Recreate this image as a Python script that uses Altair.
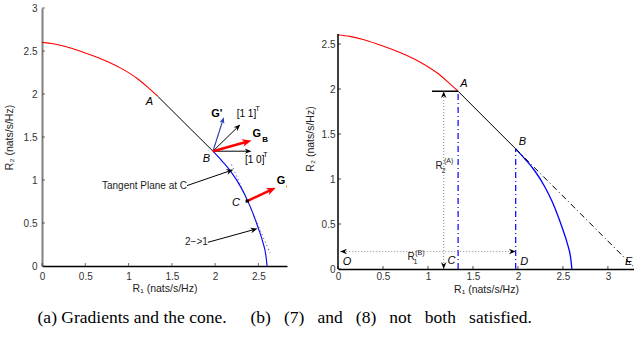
import math
import altair as alt
import pandas as pd

FONT = "Liberation Sans"
SERIF = "Liberation Serif"

# ---------------- boundary of the rate region ----------------
red_r1 = [0.0, 0.13, 0.28, 0.45, 0.59, 0.76, 0.92, 1.10, 1.22, 1.335]
red_r2 = [2.60, 2.585, 2.55, 2.495, 2.445, 2.375, 2.295, 2.18, 2.08, 1.975]
blue_r1 = [1.975, 2.08, 2.18, 2.295, 2.375, 2.445, 2.495, 2.55, 2.585, 2.60]
blue_r2 = [1.335, 1.22, 1.10, 0.92, 0.76, 0.59, 0.45, 0.28, 0.13, 0.0]
segment_r1 = [1.335, 1.975]   # A -> B
segment_r2 = [1.975, 1.335]

# ---------------- panel (a) ----------------
a_x_ticks = [0, 0.5, 1, 1.5, 2, 2.5]
a_y_ticks = [0, 0.5, 1, 1.5, 2, 2.5, 3]
a_pt_text = ["A", "B", "C"]
a_pt_r1 = [1.24, 1.90, 2.24]
a_pt_r2 = [1.91, 1.25, 0.73]
c_r1 = [2.37]
c_r2 = [0.755]
tangent_r1 = [2.19, 2.635]
tangent_r2 = [1.18, 0.15]
# gradient arrows leaving B:  G', [1 1]^T, G_B, [1 0]^T
grad_tip_r1 = [2.10, 2.29, 2.42, 2.42]
grad_tip_r2 = [1.73, 1.645, 1.46, 1.335]
gc_tip_r1 = [2.70]
gc_tip_r2 = [0.91]
note_text = ["Tangent Plane at C", "2\u2212>1"]
note_from_r1 = [1.675, 1.915]
note_from_r2 = [0.935, 0.275]
note_tip_r1 = [2.21, 2.49]
note_tip_r2 = [1.12, 0.435]

# ---------------- panel (b) ----------------
b_x_ticks = [0, 0.5, 1, 1.5, 2, 2.5, 3]
b_y_ticks = [0, 0.5, 1, 1.5, 2, 2.5]
b_pt_text = ["A", "B", "O", "C", "D", "E"]
b_pt_r1 = [1.40, 2.05, 0.10, 1.26, 2.07, 3.23]
b_pt_r2 = [2.055, 1.41, 0.073, 0.09, 0.08, 0.074]
bar_r1 = [1.045, 1.335]
bar_r2 = [1.975, 1.975]
r2a_r1 = [1.175, 1.175]
r2a_r2 = [0.0, 1.975]
r1b_r1 = [0.025, 1.975]
r1b_r2 = [0.195, 0.195]
proj_r1 = [1.335, 1.975]
proj_top = [1.975, 1.335]
ext_r1 = [1.975, 3.31]
ext_r2 = [1.335, 0.0]

SP = " \u2002"
captions = ["(a) Gradients and the cone.",
            SP.join(["(b)", "(7)", "and", "(8)", "not", "both", "satisfied."])]
cap_r1 = [1.04, 0.59]
cap_r2 = [-0.60, -0.54]

# ---------------- geometry of the two panels ----------------
A_W, A_H, A_XMAX, A_YMAX = 245, 258, 2.83, 3.0
B_W, B_H, B_XMAX, B_YMAX = 296, 261, 3.29, 2.9
xs_a = alt.Scale(domain=[0, A_XMAX], nice=False, zero=False)
ys_a = alt.Scale(domain=[0, A_YMAX], nice=False, zero=False)
xs_b = alt.Scale(domain=[0, B_XMAX], nice=False, zero=False)
ys_b = alt.Scale(domain=[0, B_YMAX], nice=False, zero=False)
SX_A, SY_A = A_W / A_XMAX, A_H / A_YMAX
SX_B, SY_B = B_W / B_XMAX, B_H / B_YMAX

HEAD = "M0,0L-2,-0.8L-1.4,0L-2,0.8Z"


def xy(xs, ys, xf="x", yf="y"):
    return dict(x=alt.X(f"{xf}:Q", scale=xs),
                y=alt.Y(f"{yf}:Q", scale=ys))


def curve(xs, ys, r1, r2, color, width=1.1):
    df = pd.DataFrame({"x": r1, "y": r2, "o": list(range(len(r1)))})
    return alt.Chart(df).mark_line(color=color, strokeWidth=width, interpolate="monotone").encode(
        **xy(xs, ys), order="o:Q")


def seg(xs, ys, r1, r2, color, width=1.0, dash=None, clip=False):
    df = pd.DataFrame({"x": [r1[0]], "y": [r2[0]], "x2": [r1[1]], "y2": [r2[1]]})
    kw = dict(color=color, strokeWidth=width, clip=clip)
    if dash:
        kw["strokeDash"] = dash
    return alt.Chart(df).mark_rule(**kw).encode(**xy(xs, ys), x2="x2:Q", y2="y2:Q")


def heads(xs, ys, sx, sy, from_r1, from_r2, tip_r1, tip_r2, color, size):
    rows = []
    for x0, y0, x1, y1 in zip(from_r1, from_r2, tip_r1, tip_r2):
        ang = math.degrees(math.atan2(-(y1 - y0) * sy, (x1 - x0) * sx)) % 360
        rows.append({"x": x1, "y": y1, "ang": ang})
    df = pd.DataFrame(rows)
    return alt.Chart(df).mark_point(shape=HEAD, filled=True, size=size, color=color,
                                    opacity=1, strokeWidth=0).encode(
        **xy(xs, ys), angle=alt.Angle("ang:Q", scale=None))


def arrows(xs, ys, sx, sy, from_r1, from_r2, tip_r1, tip_r2, color, width, size):
    hl = math.sqrt(size)
    rows = []
    for x0, y0, x1, y1 in zip(from_r1, from_r2, tip_r1, tip_r2):
        L = math.hypot((x1 - x0) * sx, (y1 - y0) * sy)
        f = max(0.0, (L - 0.6 * hl) / L)
        rows.append({"x": x0, "y": y0, "x2": x0 + (x1 - x0) * f, "y2": y0 + (y1 - y0) * f})
    shaft = alt.Chart(pd.DataFrame(rows)).mark_rule(color=color, strokeWidth=width).encode(
        **xy(xs, ys), x2="x2:Q", y2="y2:Q")
    return shaft + heads(xs, ys, sx, sy, from_r1, from_r2, tip_r1, tip_r2, color, size)


def txt(xs, ys, r1, r2, texts, size=10, weight="normal", style="normal", align="center",
        baseline="middle", color="black", clip=False, font=FONT):
    df = pd.DataFrame({"x": r1, "y": r2, "t": texts})
    return alt.Chart(df).mark_text(align=align, baseline=baseline, fontSize=size, fontWeight=weight,
                                   fontStyle=style, font=font, color=color, clip=clip).encode(
        **xy(xs, ys), text="t:N")


def inner_ticks(xs, ys, xt, yt, color="#333333"):
    tx = alt.Chart(pd.DataFrame({"t": xt, "z": [0] * len(xt)})).mark_tick(
        orient="vertical", size=3, thickness=1, yOffset=-1.5, color=color).encode(
        x=alt.X("t:Q", scale=xs), y=alt.Y("z:Q", scale=ys))
    ty = alt.Chart(pd.DataFrame({"t": yt, "z": [0] * len(yt)})).mark_tick(
        orient="horizontal", size=3, thickness=1, xOffset=1.5, color=color).encode(
        y=alt.Y("t:Q", scale=ys), x=alt.X("z:Q", scale=xs))
    return tx + ty


def axis(values, title, **kw):
    base = dict(values=values, title=title, ticks=False, grid=False, format="~g",
                labelFont=FONT, labelFontSize=10, labelColor="#333333", labelFlush=False,
                labelOverlap=False, titleFont=FONT, titleFontSize=10.5, titleFontWeight="normal",
                titleColor="#222222")
    base.update(kw)
    return alt.Axis(**base)


# ======================= panel (a) =======================
red_a = alt.Chart(pd.DataFrame({"x": red_r1, "y": red_r2, "o": list(range(len(red_r1)))})).mark_line(
    color="red", strokeWidth=1.1, interpolate="monotone").encode(
    x=alt.X("x:Q", scale=xs_a, axis=axis(a_x_ticks, "R\u2081 (nats/s/Hz)", domainColor="black",
                                           domainWidth=1.5, labelPadding=5, titlePadding=2)),
    y=alt.Y("y:Q", scale=ys_a, axis=axis(a_y_ticks, "R\u2082 (nats/s/Hz)", domainColor="#808080",
                                           domainWidth=2, labelPadding=5, titlePadding=9)),
    order="o:Q")

layers_a = [
    red_a,
    seg(xs_a, ys_a, segment_r1, segment_r2, "black", 1.0),
    curve(xs_a, ys_a, blue_r1, blue_r2, "blue"),
    seg(xs_a, ys_a, tangent_r1, tangent_r2, "#444444", 1.0, dash=[1, 3]),
    inner_ticks(xs_a, ys_a, a_x_ticks, a_y_ticks),
    arrows(xs_a, ys_a, SX_A, SY_A, [segment_r1[1]], [segment_r2[1]], grad_tip_r1[0:1], grad_tip_r2[0:1],
           "#2a3fb5", 1.2, 40),
    arrows(xs_a, ys_a, SX_A, SY_A, [segment_r1[1]] * 2, [segment_r2[1]] * 2,
           [grad_tip_r1[1], grad_tip_r1[3]], [grad_tip_r2[1], grad_tip_r2[3]], "black", 1.0, 45),
    arrows(xs_a, ys_a, SX_A, SY_A, [segment_r1[1]], [segment_r2[1]], grad_tip_r1[2:3], grad_tip_r2[2:3],
           "red", 2.5, 90),
    arrows(xs_a, ys_a, SX_A, SY_A, c_r1, c_r2, gc_tip_r1, gc_tip_r2, "red", 2.5, 90),
    arrows(xs_a, ys_a, SX_A, SY_A, note_from_r1, note_from_r2, note_tip_r1, note_tip_r2, "black", 1.0, 50),
    alt.Chart(pd.DataFrame({"x": c_r1, "y": c_r2})).mark_point(
        shape="cross", angle=45, filled=True, size=16, color="black", opacity=1).encode(**xy(xs_a, ys_a)),
    txt(xs_a, ys_a, a_pt_r1, a_pt_r2, a_pt_text, size=11, style="italic"),
    txt(xs_a, ys_a, note_from_r1, note_from_r2, note_text, size=10, align="right", color="#222222"),
    txt(xs_a, ys_a, [2.02], [1.765], ["G'"], size=11, weight="bold"),
    txt(xs_a, ys_a, [2.362, 2.457], [1.762, 1.228], ["[1 1]", "[1 0]"], size=10),
    txt(xs_a, ys_a, [2.49, 2.58], [1.83, 1.29], ["T", "T"], size=7),
    txt(xs_a, ys_a, [2.48, 2.76], [1.53, 0.99], ["G", "G"], size=11, weight="bold", clip=True),
    txt(xs_a, ys_a, [2.545, 2.82], [1.46, 0.92], ["B", "C"], size=8, weight="bold", align="left", clip=True),
    txt(xs_a, ys_a, cap_r1[0:1], cap_r2[0:1], captions[0:1], size=17.5, font=SERIF),
]
panel_a = alt.layer(*layers_a).properties(width=A_W, height=A_H)

# ======================= panel (b) =======================
red_b = alt.Chart(pd.DataFrame({"x": red_r1, "y": red_r2, "o": list(range(len(red_r1)))})).mark_line(
    color="red", strokeWidth=1.1, interpolate="monotone").encode(
    x=alt.X("x:Q", scale=xs_b, axis=axis(b_x_ticks, "R\u2081 (nats/s/Hz)", domainColor="black",
                                           domainWidth=1.5, labelPadding=2, titlePadding=3)),
    y=alt.Y("y:Q", scale=ys_b, axis=axis(b_y_ticks, "R\u2082 (nats/s/Hz)", domain=False,
                                           labelPadding=3, titlePadding=6)),
    order="o:Q")

layers_b = [
    red_b,
    seg(xs_b, ys_b, [0, 0], [0, 2.61], "black", 1.5),
    seg(xs_b, ys_b, segment_r1, segment_r2, "black", 1.0),
    curve(xs_b, ys_b, blue_r1, blue_r2, "blue", 1.3),
    seg(xs_b, ys_b, ext_r1, ext_r2, "black", 1.0, dash=[6, 3, 1, 3], clip=True),
    seg(xs_b, ys_b, bar_r1, bar_r2, "black", 1.5),
    seg(xs_b, ys_b, [proj_r1[0]] * 2, [0, proj_top[0]], "blue", 1.2, dash=[6, 3, 1, 3]),
    seg(xs_b, ys_b, [proj_r1[1]] * 2, [0, proj_top[1]], "blue", 1.2, dash=[6, 3, 1, 3]),
    seg(xs_b, ys_b, r2a_r1, r2a_r2, "#888888", 1.0, dash=[1, 2]),
    seg(xs_b, ys_b, r1b_r1, r1b_r2, "#888888", 1.0, dash=[1, 2]),
    heads(xs_b, ys_b, SX_B, SY_B, [1.175, 1.175, 1.0, 1.0], [1.0, 1.0, 0.195, 0.195],
          [r2a_r1[1], r2a_r1[0], r1b_r1[0], r1b_r1[1]], [r2a_r2[1], r2a_r2[0], r1b_r2[0], r1b_r2[1]],
          "black", 45),
    inner_ticks(xs_b, ys_b, b_x_ticks, b_y_ticks, "black"),
    txt(xs_b, ys_b, b_pt_r1, b_pt_r2, b_pt_text, size=11, style="italic", clip=True),
    txt(xs_b, ys_b, [1.123, 0.813], [1.148, 0.137], ["R", "R"], size=10, color="#222222"),
    txt(xs_b, ys_b, [1.175, 0.86], [1.085, 0.08], ["2", "1"], size=7, color="#222222"),
    txt(xs_b, ys_b, [1.23, 0.91], [1.20, 0.175], ["(A)", "(B)"], size=7, color="#222222"),
    txt(xs_b, ys_b, cap_r1[1:2], cap_r2[1:2], captions[1:2], size=17.5, font=SERIF),
]
panel_b = alt.layer(*layers_b).properties(width=B_W, height=B_H)

chart = alt.hconcat(panel_a, panel_b, spacing=51, bounds="flush").properties(
    padding={"left": 4, "top": 3, "right": 0, "bottom": 0}
).configure_view(stroke=None)

chart.save("out.html", embed_options={"renderer": "svg", "actions": False})
